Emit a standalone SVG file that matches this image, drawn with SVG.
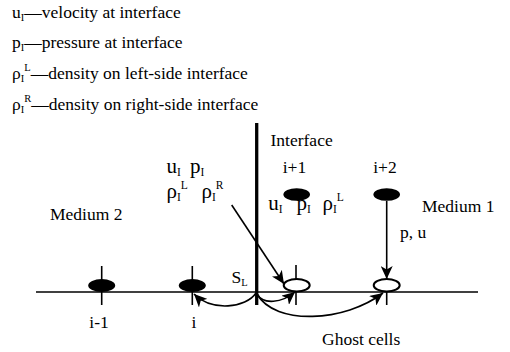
<svg xmlns="http://www.w3.org/2000/svg" width="510" height="352" viewBox="0 0 510 352" font-family="'Liberation Serif', 'Times New Roman', Times, serif">
<style>
text{font-family:'Liberation Serif','Times New Roman',Times,serif;fill:#000;}
.t{font-size:17.5px;}
.m{font-size:21px;}
.s{font-size:10.5px;}
.m .s{font-size:11.5px;}
.ln{stroke:#000;stroke-width:1.6;fill:none;}
.ar{stroke:#000;stroke-width:1.6;fill:none;marker-end:url(#ah);}
.fe{fill:#000;}
.oe{fill:#fff;stroke:#000;stroke-width:2;}
</style>
<defs>
<marker id="ah" markerWidth="14" markerHeight="12" refX="13" refY="6" orient="auto" markerUnits="userSpaceOnUse">
<path d="M0,0 L13,6 L0,12 L3.5,6 Z" fill="#000"/>
</marker>
</defs>
<g id="legend">
<text class="t" x="12" y="18">u<tspan class="s" dy="3">I</tspan><tspan dy="-3">—velocity at interface</tspan></text>
<text class="t" x="12" y="48">p<tspan class="s" dy="3">I</tspan><tspan dy="-3">—pressure at interface</tspan></text>
<text class="t" x="12" y="79">ρ<tspan class="s" dy="3">I</tspan><tspan class="s" dy="-11">L</tspan><tspan dy="8">—density on left-side interface</tspan></text>
<text class="t" x="12" y="110">ρ<tspan class="s" dy="3">I</tspan><tspan class="s" dy="-11">R</tspan><tspan dy="8">—density on right-side interface</tspan></text>
</g>
<g id="axis">
<line class="ln" x1="36" y1="292" x2="478" y2="292"/>
<line x1="256.7" y1="123" x2="256.7" y2="305" stroke="#000" stroke-width="3.3"/>
</g>
<g id="node-im1">
<line class="ln" x1="101.7" y1="266" x2="101.7" y2="305"/>
<ellipse class="fe" cx="101.7" cy="285.5" rx="13.5" ry="6.5"/>
<text class="t" x="99" y="328" text-anchor="middle">i-1</text>
</g>
<g id="node-i">
<line class="ln" x1="192.3" y1="266" x2="192.3" y2="305"/>
<ellipse class="fe" cx="192.3" cy="285.5" rx="13.5" ry="6.5"/>
<text class="t" x="194" y="328" text-anchor="middle">i</text>
</g>
<g id="node-ip1">
<ellipse class="fe" cx="296.7" cy="194.5" rx="13.3" ry="6.3"/>
<text class="t" x="294.5" y="173" text-anchor="middle">i+1</text>
<line class="ln" x1="296" y1="265" x2="296" y2="305"/>
<ellipse class="oe" cx="296.7" cy="285.3" rx="13" ry="6.2"/>
</g>
<g id="node-ip2">
<ellipse class="fe" cx="386.7" cy="194.5" rx="13.3" ry="6.3"/>
<text class="t" x="385" y="173" text-anchor="middle">i+2</text>
<line class="ln" x1="386.7" y1="285" x2="386.7" y2="305"/>
<ellipse class="oe" cx="386.7" cy="285.3" rx="13" ry="6.2"/>
</g>
<g id="labels">
<text class="t" x="270.5" y="146">Interface</text>
<text class="t" x="50" y="220">Medium 2</text>
<text class="t" x="422" y="212">Medium 1</text>
<text class="t" x="400" y="238">p, u</text>
<text class="t" x="322" y="345">Ghost cells</text>
<text class="t" x="231.5" y="283">S<tspan class="s" dy="3">L</tspan></text>
<text class="m" x="166.5" y="173">u<tspan class="s" dy="3">I</tspan></text>
<text class="m" x="190" y="173">p<tspan class="s" dy="3">I</tspan></text>
<text class="m" x="166.5" y="198">ρ<tspan class="s" dy="3">I</tspan><tspan class="s" dy="-12">L</tspan></text>
<text class="m" x="201.5" y="198">ρ<tspan class="s" dy="3">I</tspan><tspan class="s" dy="-12">R</tspan></text>
<text class="m" x="268.3" y="210">u<tspan class="s" dy="3">I</tspan></text>
<text class="m" x="296.5" y="210">p<tspan class="s" dy="3">I</tspan></text>
<text class="m" x="322.5" y="210">ρ<tspan class="s" dy="3">I</tspan><tspan class="s" dy="-12">L</tspan></text>
</g>
<g id="connectors">
<line class="ar" x1="231.7" y1="205" x2="284" y2="284"/>
<line class="ar" x1="386.7" y1="201" x2="386.7" y2="279"/>
<path class="ar" d="M256,293 C246,308 212,312 194,294"/>
<path class="ar" d="M257,294 C263,305 282,303 295,292"/>
<path class="ar" d="M257,294 C275,326 345,322 383,293"/>
</g>
</svg>
